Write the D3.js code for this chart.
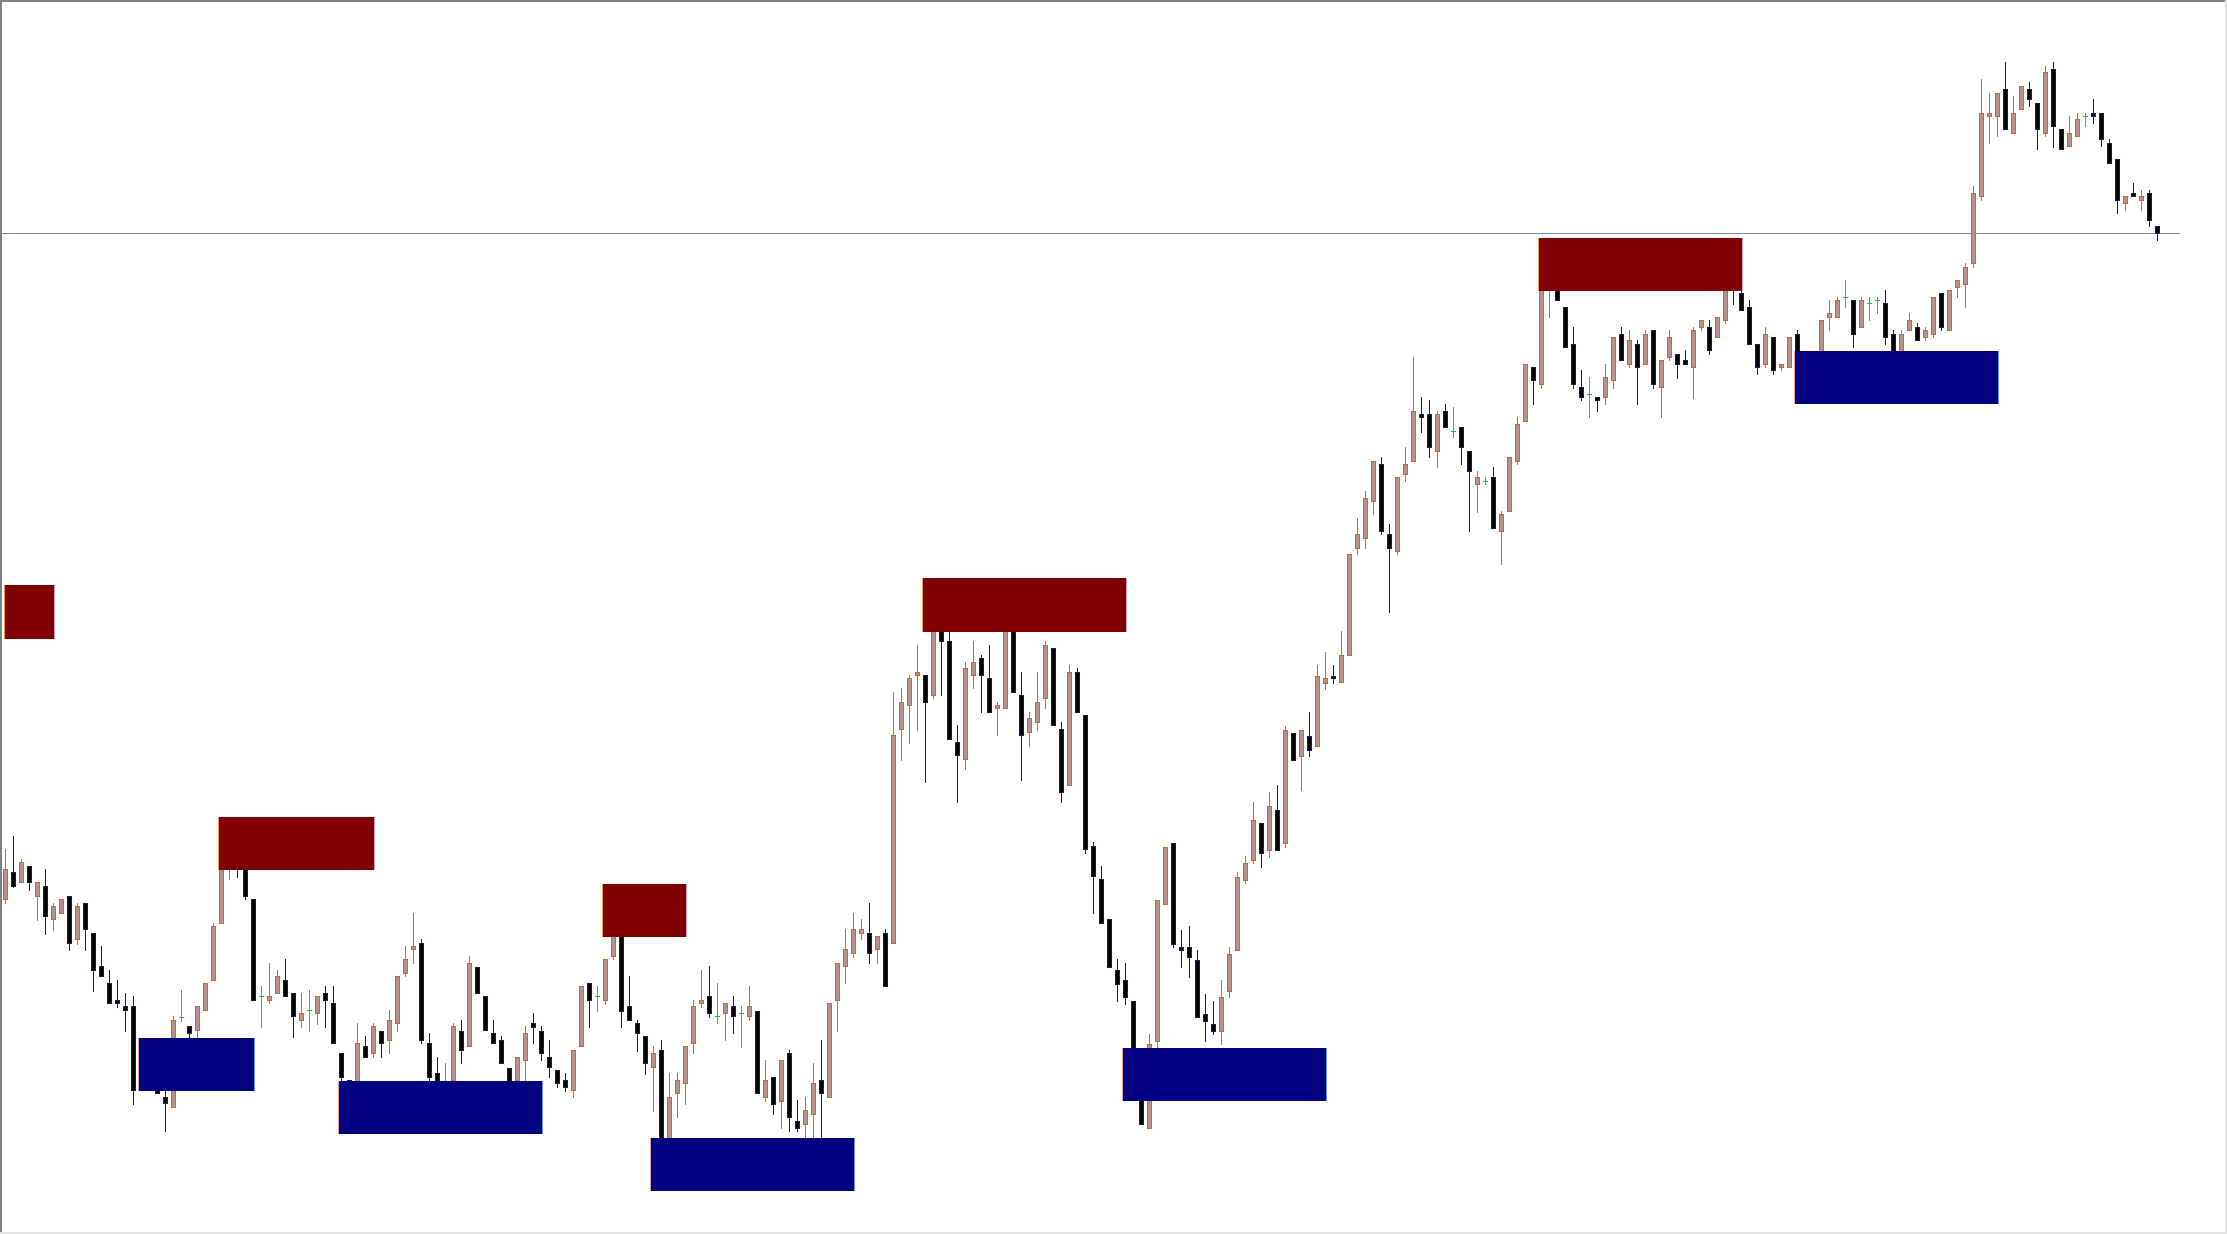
<!DOCTYPE html>
<html>
<head>
<meta charset="utf-8">
<script src="https://cdn.jsdelivr.net/npm/d3@7/dist/d3.min.js"></script>
<style>
  html, body { margin: 0; padding: 0; background: #fff; overflow: hidden; }
  svg { display: block; }
</style>
</head>
<body>
<div id="chart"></div>
<script>
var width = 2227,
    height = 1234;

// prices in points, one entry per bar (oldest first)
var open = [
  335,362,352,368,338,348,315,321,338,295, 331,301,268,251,234,228,228,146,169,159,
  137,127,217,208,204,224,254,311,369,396, 374,335,238,234,241,254,241,214,224,221,
  241,231,181,154,139,188,181,203,194,211, 261,285,291,191,161,124,154,203,188,267,
  238,201,194,166,154,174,211,203,177,164, 154,144,188,251,238,234,278,319,228,211,
  198,167,184,84,141,151,191,231,238,218, 221,228,221,218,223,137,157,133,181,113,
  110,120,154,137,234,268,281,301,301,285, 301,291,505,529,559,559,539,619,593,492,
  475,559,576,556,526,526,614,539,502,512, 536,586,505,449,562,519,388,355,315,264,
  254,233,159,106,193,330,391,287,287,274, 220,210,203,243,284,354,374,411,384,424,
  391,501,478,498,488,551,558,552,579,686, 696,733,770,700,683,760,773,820,820,783,
  823,803,807,783,750,753,757,703,723,773, 813,867,850,954,974,927,890,847,840,837,
  837,854,900,870,890,870,904,847,877,880, 874,867,907,907,897,914,964,941,927,890,
  870,897,867,867,900,844,869,864,917,917, 937,934,907,931,934,931,900,869,904,907,
  897,900,941,904,947,950,971,1038,1118,1118, 1145,1101,1125,1145,1131,1101,1165,1105,1088,1098,
  1118,1121,1121,1091,1075,1031,1041,1034,1041,1008
];
var high = [
  385,398,375,368,352,365,331,335,338,331, 331,301,288,264,254,241,238,179,176,166,
  149,218,244,208,228,251,311,384,404,409, 379,335,248,271,264,275,241,241,244,238,
  248,248,181,154,211,198,211,203,224,258, 288,321,295,201,177,171,211,214,278,267,
  238,214,198,166,177,208,221,208,194,164, 161,184,248,251,248,275,316,329,258,214,
  198,188,194,161,161,188,234,264,268,251, 231,238,228,248,223,174,157,174,184,134,
  137,171,194,231,271,305,321,315,331,298, 305,542,546,559,589,559,624,634,609,509,
  572,593,579,589,532,619,624,562,522,562, 593,586,512,569,566,519,392,368,315,275,
  271,233,164,200,334,387,391,304,308,284, 240,233,254,287,362,378,432,411,442,449,
  508,501,504,522,569,582,569,603,680,716, 743,773,777,710,757,787,877,837,834,823,
  830,827,807,783,763,757,767,723,777,817, 870,867,984,989,984,927,907,864,857,837,
  870,897,907,904,894,904,904,874,904,880, 884,907,914,914,917,964,974,949,934,890,
  907,897,870,897,904,876,874,914,934,937, 954,934,937,937,937,944,904,904,921,911,
  907,937,941,944,954,971,1048,1155,1141,1141, 1172,1138,1148,1152,1131,1168,1172,1105,1118,1121,
  1121,1135,1121,1095,1075,1038,1051,1044,1044,1008
];
var low = [
  331,347,352,344,314,300,304,321,284,290, 284,243,258,231,227,203,130,145,149,141,
  103,127,213,189,194,224,254,311,355,357, 335,234,207,231,241,238,197,207,203,210,
  207,191,149,124,134,177,177,177,181,203, 258,271,191,151,134,119,153,171,188,241,
  204,191,171,144,152,153,191,174,157,147, 143,137,188,207,223,230,275,207,214,183,
  160,123,74,79,117,130,181,227,217,211, 194,201,187,214,141,133,120,106,103,103,
  96,94,94,137,203,251,277,295,271,271, 248,291,474,491,504,452,536,539,495,432,
  465,546,522,522,499,526,542,454,488,504, 526,509,432,449,522,381,321,311,267,233,
  230,149,110,106,184,330,287,267,257,217, 193,200,190,237,284,351,371,367,377,384,
  387,474,444,478,488,545,551,552,579,680, 686,720,700,622,680,753,773,802,777,767,
  807,797,770,703,722,750,706,670,723,770, 813,830,846,917,934,887,846,834,817,823,
  830,846,874,867,830,870,846,817,874,856, 870,836,904,880,897,911,930,924,890,860,
  867,860,864,867,856,839,842,859,904,917, 927,887,907,914,921,890,869,864,904,894,
  894,897,904,904,937,927,967,1034,1091,1098, 1105,1101,1125,1128,1085,1098,1087,1085,1088,1098,
  1108,1111,1088,1071,1021,1024,1038,1024,1008,994
];
var close = [
  365,348,372,352,352,318,328,335,291,328, 305,264,258,231,231,224,144,172,154,141,
  131,214,217,201,228,251,308,374,394,372, 338,234,238,238,258,238,218,221,224,238,
  234,191,157,134,191,177,208,191,214,258, 275,288,194,157,139,144,208,184,271,241,
  204,191,171,149,177,201,207,181,167,151, 147,184,248,234,238,275,309,223,214,201,
  171,181,84,137,154,188,228,234,221,218, 231,218,221,228,141,154,130,174,117,106,
  124,151,141,231,271,285,305,305,281,298, 248,499,532,556,562,532,609,593,495,479,
  566,572,559,522,529,609,542,499,516,532, 589,509,442,562,522,385,358,311,267,250,
  237,154,110,190,334,387,290,284,277,217, 213,203,237,280,357,371,414,381,428,384,
  504,474,504,484,558,556,556,579,680,700, 736,773,703,686,757,770,823,817,787,820,
  807,803,787,763,757,753,706,720,777,810, 870,854,974,979,934,887,850,837,840,834,
  857,897,874,894,867,900,850,874,897,870, 870,904,914,884,917,954,944,924,890,867,
  900,864,870,897,862,872,849,914,921,934, 937,900,934,931,934,897,874,900,914,894,
  904,937,907,944,954,967,1041,1121,1121,1141, 1105,1121,1148,1135,1105,1162,1108,1085,1101,1115,
  1118,1118,1095,1071,1034,1038,1038,1038,1014,1001
];

// zones: [first bar, last bar, upper price, lower price]
var supplyZones = [
  [0, 6, 649, 595],
  [27, 46, 417, 364],
  [75, 85, 350, 297],
  [115, 140, 656, 602],
  [192, 217, 996, 943]
];
var demandZones = [
  [17, 31, 196, 143],
  [42, 67, 153, 100],
  [81, 106, 96, 43],
  [140, 165, 186, 133],
  [224, 249, 883, 830]
];

var bars = open.map(function(o, i) {
  return { i: i, o: o, h: high[i], l: low[i], c: close[i] };
});

var x = d3.scaleLinear().domain([0, bars.length - 1]).range([5.33, 5.33 + 8 * (bars.length - 1)]);
var y = d3.scaleLinear().domain([0, height]).range([height, 0]);

var svg = d3.select("#chart").append("svg")
    .attr("width", width)
    .attr("height", height)
    .attr("shape-rendering", "crispEdges");

svg.append("rect").attr("width", width).attr("height", height).attr("fill", "#fff");

function cx(i) { return Math.round(x(i)) + 0.5; }
function py(v) { return Math.round(y(v)) + 0.5; }

// current price line
svg.append("line")
    .attr("x1", 2).attr("x2", 2180)
    .attr("y1", py(close[close.length - 1])).attr("y2", py(close[close.length - 1]))
    .attr("stroke", "#778899").attr("stroke-width", 1);

var kind = function(d) { return d.c > d.o ? "bull" : (d.c < d.o ? "bear" : "doji"); };
var wickColor = { bull: "#d2691e", bear: "#191970", doji: "#00e000" };

var g = svg.append("g");

g.selectAll("line.wick")
    .data(bars)
    .enter().append("line")
    .attr("class", "wick")
    .attr("x1", function(d) { return cx(d.i); })
    .attr("x2", function(d) { return cx(d.i); })
    .attr("y1", function(d) { return Math.round(y(d.h)); })
    .attr("y2", function(d) { return Math.round(y(d.l)) + 1; })
    .attr("stroke", function(d) { return wickColor[kind(d)]; })
    .attr("stroke-width", 1);

g.selectAll("rect.body")
    .data(bars.filter(function(d) { return kind(d) != "doji"; }))
    .enter().append("rect")
    .attr("class", "body")
    .attr("x", function(d) { return cx(d.i) - 2; })
    .attr("width", 4)
    .attr("y", function(d) { return py(Math.max(d.o, d.c)); })
    .attr("height", function(d) { return Math.max(1, py(Math.min(d.o, d.c)) - py(Math.max(d.o, d.c))); })
    .attr("fill", function(d) { return kind(d) == "bull" ? "#bc8f8f" : "#000"; })
    .attr("stroke", function(d) { return kind(d) == "bull" ? "#d2691e" : "#191970"; })
    .attr("stroke-width", 1);

g.selectAll("line.doji")
    .data(bars.filter(function(d) { return kind(d) == "doji"; }))
    .enter().append("line")
    .attr("class", "doji")
    .attr("x1", function(d) { return cx(d.i) - 2.5; })
    .attr("x2", function(d) { return cx(d.i) + 2.5; })
    .attr("y1", function(d) { return py(d.o); })
    .attr("y2", function(d) { return py(d.o); })
    .attr("stroke", "#00e000")
    .attr("stroke-width", 1);

// zones sit on top of the bars
function left(d) { return Math.max(4, Math.round(x(d[0])) - 3); }
function drawZones(list, fill, leftEdge, rightEdge) {
  var z = svg.append("g").selectAll("g").data(list).enter().append("g");
  z.append("rect")
      .attr("x", left)
      .attr("y", function(d) { return Math.round(y(d[2])); })
      .attr("width", function(d) { return Math.round(x(d[1])) + 2 - left(d); })
      .attr("height", function(d) { return Math.round(y(d[3])) - Math.round(y(d[2])); })
      .attr("fill", fill);
  z.append("rect")
      .attr("x", left)
      .attr("y", function(d) { return Math.round(y(d[2])); })
      .attr("width", 1)
      .attr("height", function(d) { return Math.round(y(d[3])) - Math.round(y(d[2])); })
      .attr("fill", leftEdge);
  z.append("rect")
      .attr("x", function(d) { return Math.round(x(d[1])) + 1; })
      .attr("y", function(d) { return Math.round(y(d[2])); })
      .attr("width", 1)
      .attr("height", function(d) { return Math.round(y(d[3])) - Math.round(y(d[2])); })
      .attr("fill", rightEdge);
}
drawZones(supplyZones, "#800000", "#f0a050", "#c8a0c8");
drawZones(demandZones, "#000080", "#f0a0a0", "#6495ed");

// sunken frame
svg.append("rect").attr("x", 0).attr("y", 0).attr("width", width).attr("height", 2).attr("fill", "#808080");
svg.append("rect").attr("x", 0).attr("y", 0).attr("width", 2).attr("height", height).attr("fill", "#808080");
svg.append("rect").attr("x", 2225).attr("y", 0).attr("width", 2).attr("height", height).attr("fill", "#e3e3e3");
svg.append("rect").attr("x", 0).attr("y", 1232).attr("width", width).attr("height", 2).attr("fill", "#e3e3e3");
</script>
</body>
</html>
